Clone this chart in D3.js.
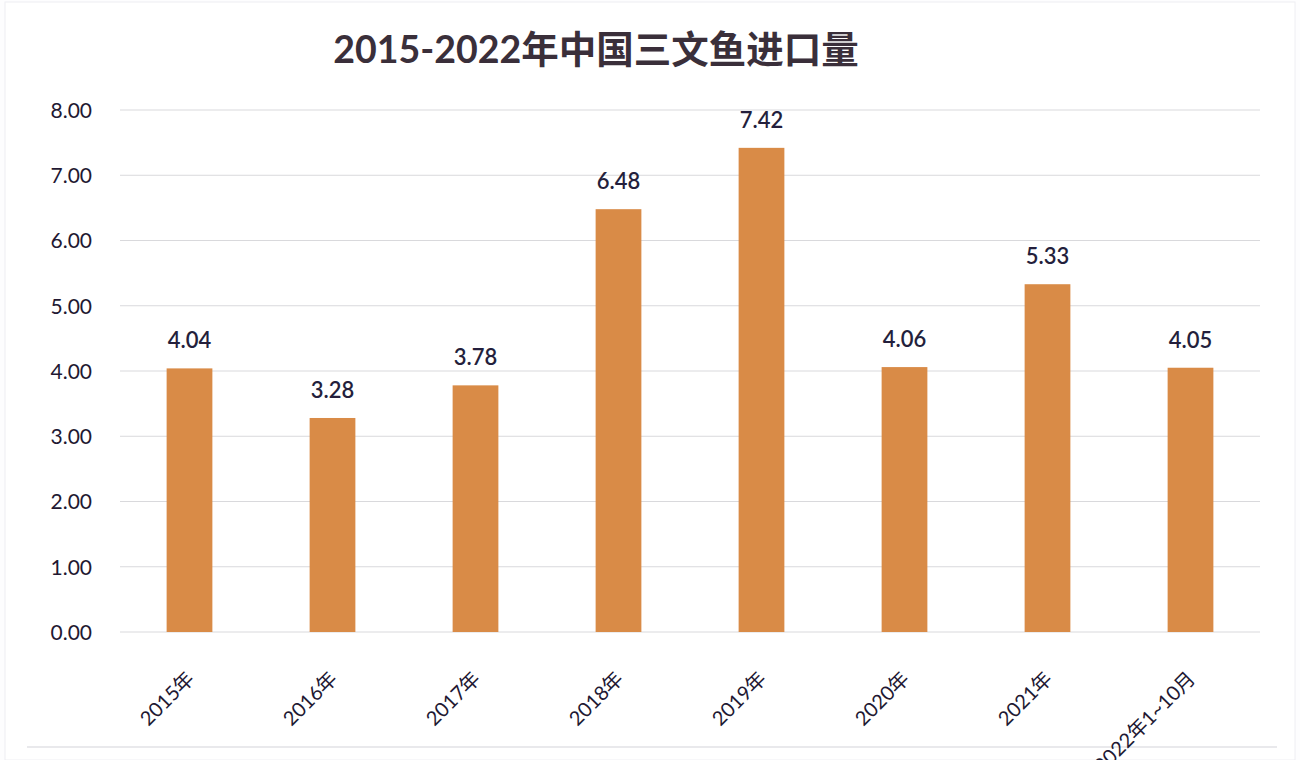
<!DOCTYPE html>
<html><head><meta charset="utf-8">
<script src="https://cdn.jsdelivr.net/npm/d3@7"></script>
<style>
html,body{margin:0;padding:0;background:#fff;}
svg{display:block;}
</style></head>
<body>
<svg id="chart" width="1300" height="760"></svg>
<script>
const title = "2015-2022年中国三文鱼进口量";
const categories = ["2015年","2016年","2017年","2018年","2019年","2020年","2021年","2022年1~10月"];
const values = [4.04, 3.28, 3.78, 6.48, 7.42, 4.06, 5.33, 4.05];
const yTicks = [0,1,2,3,4,5,6,7,8];

const W = 1300, H = 760;
const m = {left:118, right:40, top:110, bottom:128};
const svg = d3.select("#chart");
const font = "Lato, 'Noto Sans CJK SC', sans-serif";

svg.append("rect").attr("x",0).attr("y",0).attr("width",W).attr("height",H).attr("fill","#fdfdfe");
svg.append("rect").attr("x",5).attr("y",2).attr("width",W-10).attr("height",H-2).attr("fill","#ffffff").attr("stroke","#eeeef2");
svg.append("line").attr("x1",27).attr("x2",1277).attr("y1",747).attr("y2",747).attr("stroke","#e2e2e6").attr("stroke-width",1.5);

const x = d3.scaleBand().domain(categories).range([m.left, 1262]).paddingInner(0.68).paddingOuter(0.34);
const y = d3.scaleLinear().domain([0,8]).range([632, 110]);

// grid
svg.append("g").selectAll("line").data(yTicks).join("line")
  .attr("x1", 120).attr("x2", 1260)
  .attr("y1", d=>y(d)).attr("y2", d=>y(d))
  .attr("stroke","#d9d9dc").attr("stroke-width",1);

// y axis labels
const yAxis = d3.axisLeft(y).tickValues(yTicks).tickFormat(d3.format(".2f")).tickSize(0).tickPadding(0);
const ya = svg.append("g").attr("transform","translate(92,0)").call(yAxis);
ya.select(".domain").remove();
ya.selectAll("text").attr("font-family",font).attr("font-size",21).attr("fill","#221832").attr("dy","0.35em");

// bars
svg.append("g").selectAll("rect").data(values).join("rect")
  .attr("x",(d,i)=>x(categories[i]))
  .attr("width",x.bandwidth())
  .attr("y",d=>y(d))
  .attr("height",d=>y(0)-y(d))
  .attr("fill","#d98b47");

// value labels
svg.append("g").selectAll("text").data(values).join("text")
  .attr("x",(d,i)=>x(categories[i])+x.bandwidth()/2)
  .attr("y",d=>y(d)-20)
  .attr("text-anchor","middle")
  .attr("font-family",font).attr("font-size",22).attr("font-weight",600)
  .attr("fill","#241f3c")
  .text(d=>d.toFixed(2));

// x axis labels
const xAxis = d3.axisBottom(x).tickSize(0).tickPadding(0);
const xa = svg.append("g").attr("transform","translate(0,632)").call(xAxis);
xa.select(".domain").remove();
xa.selectAll("text")
  .attr("font-family",font).attr("font-size",20).attr("fill","#221832")
  .attr("text-anchor","end")
  .attr("dy",0)
  .attr("transform","translate(6,48) rotate(-45)");

// title
svg.append("text").attr("x",596).attr("y",63).attr("text-anchor","middle")
  .attr("font-family",font).attr("font-size",37.5).attr("font-weight",700)
  .attr("fill","#3a2f3a").text(title);
</script>
</body></html>
